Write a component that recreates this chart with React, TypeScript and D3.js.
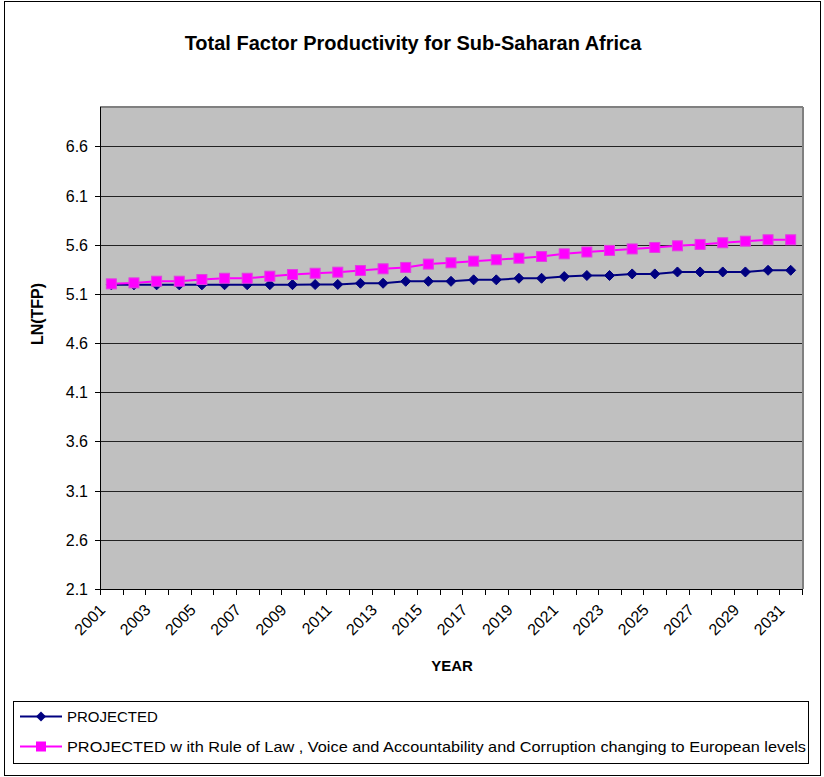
import React from "react";
import * as d3 from "d3";

const years: number[] = [
  2001, 2002, 2003, 2004, 2005, 2006, 2007, 2008, 2009, 2010,
  2011, 2012, 2013, 2014, 2015, 2016, 2017, 2018, 2019, 2020,
  2021, 2022, 2023, 2024, 2025, 2026, 2027, 2028, 2029, 2030, 2031,
];

const projected: number[] = [
  5.192, 5.192, 5.192, 5.192, 5.192, 5.193, 5.193, 5.194, 5.194, 5.195,
  5.196, 5.208, 5.208, 5.228, 5.228, 5.228, 5.243, 5.243, 5.259, 5.259,
  5.276, 5.287, 5.287, 5.303, 5.303, 5.323, 5.323, 5.323, 5.323, 5.340, 5.340,
];

const projectedEuropean: number[] = [
  5.202, 5.212, 5.229, 5.229, 5.246, 5.259, 5.259, 5.280, 5.297, 5.310,
  5.321, 5.338, 5.355, 5.369, 5.403, 5.416, 5.433, 5.447, 5.463, 5.480,
  5.507, 5.526, 5.542, 5.557, 5.572, 5.589, 5.603, 5.620, 5.636, 5.650, 5.650,
];

const yTickLabels: string[] = ["2.1", "2.6", "3.1", "3.6", "4.1", "4.6", "5.1", "5.6", "6.1", "6.6"];

const seriesNames: string[] = [
  "PROJECTED",
  "PROJECTED w ith Rule of Law , Voice and Accountability and Corruption changing to European levels",
];

const title = "Total Factor Productivity for Sub-Saharan Africa";
const yTitle = "LN(TFP)";
const xTitle = "YEAR";

const W = 824;
const H = 777;
const plot = { left: 100, right: 802, top: 107, bottom: 589 };
const FONT = "Liberation Sans, Arial, sans-serif";
const BLUE = "#000080";
const PINK = "#FF00FF";

export default function App() {
  const x = d3
    .scaleBand<number>()
    .domain(years)
    .range([plot.left, plot.right])
    .padding(0);
  const bw = x.bandwidth();
  const cx = (yr: number) => (x(yr) as number) + bw / 2;
  const y = d3.scaleLinear().domain([2.1, 7.0]).range([plot.bottom, plot.top]);

  const line = d3
    .line<number>()
    .x((_, i) => cx(years[i]))
    .y((v) => y(v));

  const diamond = (px: number, py: number, r: number) =>
    `M${px},${py - r}L${px + r},${py}L${px},${py + r}L${px - r},${py}Z`;

  const boundaries = d3.range(years.length + 1).map((i) => plot.left + i * bw);

  return (
    <svg width={W} height={H} style={{ display: "block", position: "absolute", left: 0, top: 0 }} fontFamily={FONT}>
      <rect x={0} y={0} width={W} height={H} fill="#ffffff" />
      <rect x={4.5} y={1.5} width={816} height={774} fill="#ffffff" stroke="#000" strokeWidth={1} />

      <text x={413} y={50} textAnchor="middle" fontSize={20} fontWeight="bold" fill="#000">
        {title}
      </text>

      {/* plot area */}
      <rect x={plot.left} y={plot.top} width={plot.right - plot.left} height={plot.bottom - plot.top} fill="#C0C0C0" />
      {yTickLabels.map((t) => {
        const v = +t;
        const py = Math.round(y(v)) + 0.5;
        return (
          <g key={t}>
            {v > 2.1 && (
              <line x1={plot.left} x2={plot.right} y1={py} y2={py} stroke="#222" strokeWidth={1} />
            )}
            <line x1={plot.left - 5} x2={plot.left} y1={py} y2={py} stroke="#000" strokeWidth={1} />
            <text x={88} y={py + 5.5} textAnchor="end" fontSize={16} fill="#000">
              {t}
            </text>
          </g>
        );
      })}
      {/* plot border: gray top/right */}
      <line x1={plot.left} x2={plot.right + 1} y1={plot.top} y2={plot.top} stroke="#808080" strokeWidth={2} />
      <line x1={plot.right + 1} x2={plot.right + 1} y1={plot.top} y2={plot.bottom} stroke="#808080" strokeWidth={2} />
      {/* axes */}
      <line x1={plot.left + 0.5} x2={plot.left + 0.5} y1={plot.top} y2={plot.bottom} stroke="#000" strokeWidth={1} />
      <line x1={plot.left} x2={plot.right + 1} y1={plot.bottom + 0.5} y2={plot.bottom + 0.5} stroke="#000" strokeWidth={1} />
      {boundaries.map((bx, i) => (
        <line key={i} x1={Math.round(bx) + 0.5} x2={Math.round(bx) + 0.5} y1={plot.bottom} y2={plot.bottom + 6} stroke="#000" strokeWidth={1} />
      ))}
      {years.map((yr, i) =>
        i % 2 === 0 ? (
          <text
            key={yr}
            transform={`translate(${cx(yr) - 9},${plot.bottom + 18}) rotate(-45)`}
            textAnchor="end"
            dy="0.35em"
            fontSize={16}
            fill="#000"
          >
            {yr}
          </text>
        ) : null
      )}

      {/* series */}
      <path d={line(projected) || ""} fill="none" stroke={BLUE} strokeWidth={2} />
      {projected.map((v, i) => (
        <path key={i} d={diamond(cx(years[i]), y(v), 5)} fill={BLUE} stroke={BLUE} strokeWidth={1} />
      ))}
      <path d={line(projectedEuropean) || ""} fill="none" stroke={PINK} strokeWidth={2} />
      {projectedEuropean.map((v, i) => (
        <rect key={i} x={cx(years[i]) - 5} y={y(v) - 5} width={10} height={10} fill={PINK} stroke="#E040E0" strokeWidth={1} />
      ))}

      {/* axis titles */}
      <text transform={`translate(43,314) rotate(-90)`} textAnchor="middle" fontSize={16} fontWeight="bold" fill="#000">
        {yTitle}
      </text>
      <text x={452} y={671} textAnchor="middle" fontSize={15} fontWeight="bold" fill="#000">
        {xTitle}
      </text>

      {/* legend */}
      <rect x={13.5} y={701.5} width={795} height={62} fill="#fff" stroke="#000" strokeWidth={1} />
      <line x1={20} x2={62} y1={716.5} y2={716.5} stroke={BLUE} strokeWidth={2} />
      <path d={diamond(41, 716.5, 5)} fill={BLUE} />
      <text x={67} y={722} fontSize={15} fill="#000">
        {seriesNames[0]}
      </text>
      <line x1={20} x2={62} y1={746.5} y2={746.5} stroke={PINK} strokeWidth={2} />
      <rect x={36} y={741.5} width={10} height={10} fill={PINK} />
      <text x={67} y={752} fontSize={15} fill="#000" textLength={739} lengthAdjust="spacingAndGlyphs">
        {seriesNames[1]}
      </text>
    </svg>
  );
}
